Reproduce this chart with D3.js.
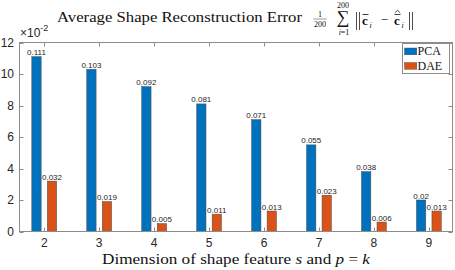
<!DOCTYPE html>
<html>
<head>
<meta charset="utf-8">
<script src="https://cdn.jsdelivr.net/npm/d3@7"></script>
<style>
  body { margin: 0; background: #fff; }
  svg { display: block; }
  .tick-label { font-family: "Liberation Sans", Arial, sans-serif; font-size: 12px; fill: #262626; }
  .bar-label { font-family: "Liberation Sans", Arial, sans-serif; font-size: 8px; fill: #262626; }
  .serif { font-family: "Liberation Serif", "Times New Roman", serif; fill: #111; }
</style>
</head>
<body>
<svg id="chart" width="455" height="270"></svg>
<script>
// ── Data ──
const dims = [2, 3, 4, 5, 6, 7, 8, 9];
const pcaErr = [0.111, 0.103, 0.092, 0.081, 0.071, 0.055, 0.038, 0.02];
const daeErr = [0.032, 0.019, 0.005, 0.011, 0.013, 0.023, 0.006, 0.013];
const yTicks = [0, 2, 4, 6, 8, 10, 12];
const seriesNames = ["PCA", "DAE"];
const seriesColors = ["#0072BD", "#D95319"];

// ── Frame ──
const fLeft = 19.5, fRight = 452.5, fTop = 42.5, fBottom = 231.5;
const svg = d3.select("#chart");

const x = d3.scaleLinear().domain([1.55, 9.43]).range([fLeft, fRight]);
const y = d3.scaleLinear().domain([0, 12]).range([fBottom, fTop]);
const barOff = 0.141, barW = 0.17;

// ── Bars ──
const series = [pcaErr, daeErr];
series.forEach((vals, s) => {
  const off = s === 0 ? -barOff : barOff;
  const rows = dims.map((d, i) => ({ d, v: vals[i] }));
  svg.selectAll(".bar-" + s)
    .data(rows)
    .join("rect")
    .attr("class", "bar-" + s)
    .attr("x", r => x(r.d + off - barW / 2))
    .attr("width", r => x(r.d + barW) - x(r.d))
    .attr("y", r => y(r.v * 100))
    .attr("height", r => y(0) - y(r.v * 100))
    .attr("fill", seriesColors[s])
    .attr("stroke", "#4a4a4a")
    .attr("stroke-width", 0.5);

  svg.selectAll(".lab-" + s)
    .data(rows)
    .join("text")
    .attr("class", "bar-label lab-" + s)
    .attr("x", r => x(r.d + off))
    .attr("y", r => y(r.v * 100) - 1.5)
    .attr("text-anchor", "middle")
    .text(r => String(r.v));
});

// ── Box and ticks ──
svg.append("rect")
  .attr("x", fLeft).attr("y", fTop)
  .attr("width", fRight - fLeft).attr("height", fBottom - fTop)
  .attr("fill", "none").attr("stroke", "#8c8c8c").attr("stroke-width", 1);

const tl = 4;
dims.forEach(d => {
  const px = Math.round(x(d)) + 0.5;
  svg.append("line").attr("x1", px).attr("x2", px).attr("y1", fBottom).attr("y2", fBottom - tl)
    .attr("stroke", "#8c8c8c");
  svg.append("line").attr("x1", px).attr("x2", px).attr("y1", fTop).attr("y2", fTop + tl)
    .attr("stroke", "#8c8c8c");
});
svg.selectAll(".xt")
  .data(dims)
  .join("text")
  .attr("class", "tick-label xt")
  .attr("x", d => x(d))
  .attr("y", 246.5)
  .attr("text-anchor", "middle")
  .text(d => d);

yTicks.forEach(t => {
  const py = Math.round(y(t)) + 0.5;
  svg.append("line").attr("x1", fLeft).attr("x2", fLeft + tl).attr("y1", py).attr("y2", py)
    .attr("stroke", "#8c8c8c");
  svg.append("line").attr("x1", fRight).attr("x2", fRight - tl).attr("y1", py).attr("y2", py)
    .attr("stroke", "#8c8c8c");
});
svg.selectAll(".yt")
  .data(yTicks)
  .join("text")
  .attr("class", "tick-label yt")
  .attr("x", 14)
  .attr("y", t => y(t) + 4.3)
  .attr("text-anchor", "end")
  .text(t => t);

// ── Exponent ──
const expo = svg.append("text").attr("class", "tick-label").attr("x", 20).attr("y", 36.5);
expo.append("tspan").text("×10");
expo.append("tspan").attr("dy", -6).attr("font-size", 9).text("-2");

// ── Legend ──
svg.append("rect")
  .attr("x", 402.5).attr("y", 43.5).attr("width", 47).attr("height", 30)
  .attr("fill", "#fff").attr("stroke", "#8c8c8c").attr("stroke-width", 1);
seriesNames.forEach((n, i) => {
  svg.append("rect")
    .attr("x", 404.5).attr("y", 48 + i * 14.5).attr("width", 12.3).attr("height", 6.8)
    .attr("fill", seriesColors[i]).attr("stroke", "#4a4a4a").attr("stroke-width", 0.4);
  svg.append("text").attr("class", "serif")
    .attr("x", 417.5).attr("y", 55.3 + i * 14.5)
    .attr("font-size", 12).text(n);
});

// ── Title ──
svg.append("text").attr("class", "serif")
  .attr("x", 57).attr("y", 22.3).attr("font-size", 15)
  .attr("textLength", 245).attr("lengthAdjust", "spacingAndGlyphs")
  .text("Average Shape Reconstruction Error");

const math = svg.append("g").attr("class", "serif");
math.append("text").attr("x", 320).attr("y", 17).attr("font-size", 8).attr("text-anchor", "middle").text("1");
math.append("line").attr("x1", 313.5).attr("x2", 326.5).attr("y1", 19).attr("y2", 19)
  .attr("stroke", "#333").attr("stroke-width", 0.5);
math.append("text").attr("x", 320).attr("y", 27).attr("font-size", 8).attr("text-anchor", "middle").text("200");
math.append("text").attr("x", 343).attr("y", 7.5).attr("font-size", 8).attr("text-anchor", "middle").text("200");
math.append("text").attr("x", 343).attr("y", 23).attr("font-size", 18).attr("text-anchor", "middle").text("∑");
const sub = math.append("text").attr("x", 344).attr("y", 35).attr("font-size", 8).attr("text-anchor", "middle");
sub.append("tspan").attr("font-style", "italic").text("i");
sub.append("tspan").text("=1");

[356.5, 359.5, 409.5, 412.5].forEach(px => {
  math.append("line").attr("x1", px).attr("x2", px).attr("y1", 12).attr("y2", 30)
    .attr("stroke", "#222").attr("stroke-width", 0.8);
});
// c-bar_i
math.append("text").attr("x", 362).attr("y", 25).attr("font-size", 13).attr("font-weight", "bold").text("c");
math.append("line").attr("x1", 362.5).attr("x2", 368.5).attr("y1", 14.5).attr("y2", 14.5)
  .attr("stroke", "#222").attr("stroke-width", 0.9);
math.append("text").attr("x", 369.5).attr("y", 28).attr("font-size", 8).attr("font-style", "italic").text("i");
math.append("text").attr("x", 384.5).attr("y", 24).attr("font-size", 13).attr("text-anchor", "middle").text("−");
// c-hat_i
math.append("text").attr("x", 394).attr("y", 25).attr("font-size", 13).attr("font-weight", "bold").text("c");
math.append("line").attr("x1", 394.5).attr("x2", 400.5).attr("y1", 14.5).attr("y2", 14.5)
  .attr("stroke", "#222").attr("stroke-width", 0.9);
math.append("path").attr("d", "M394.8,12.8 L397.5,10.3 L400.2,12.8")
  .attr("fill", "none").attr("stroke", "#222").attr("stroke-width", 0.8);
math.append("text").attr("x", 401.5).attr("y", 28).attr("font-size", 8).attr("font-style", "italic").text("i");

// ── X label ──
const xl = svg.append("text").attr("class", "serif")
  .attr("x", 102).attr("y", 264).attr("font-size", 14.5)
  .attr("textLength", 268).attr("lengthAdjust", "spacingAndGlyphs");
xl.append("tspan").text("Dimension of shape feature ");
xl.append("tspan").attr("font-style", "italic").text("s");
xl.append("tspan").text(" and ");
xl.append("tspan").attr("font-style", "italic").text("p");
xl.append("tspan").text(" = ");
xl.append("tspan").attr("font-style", "italic").text("k");
</script>
</body>
</html>
